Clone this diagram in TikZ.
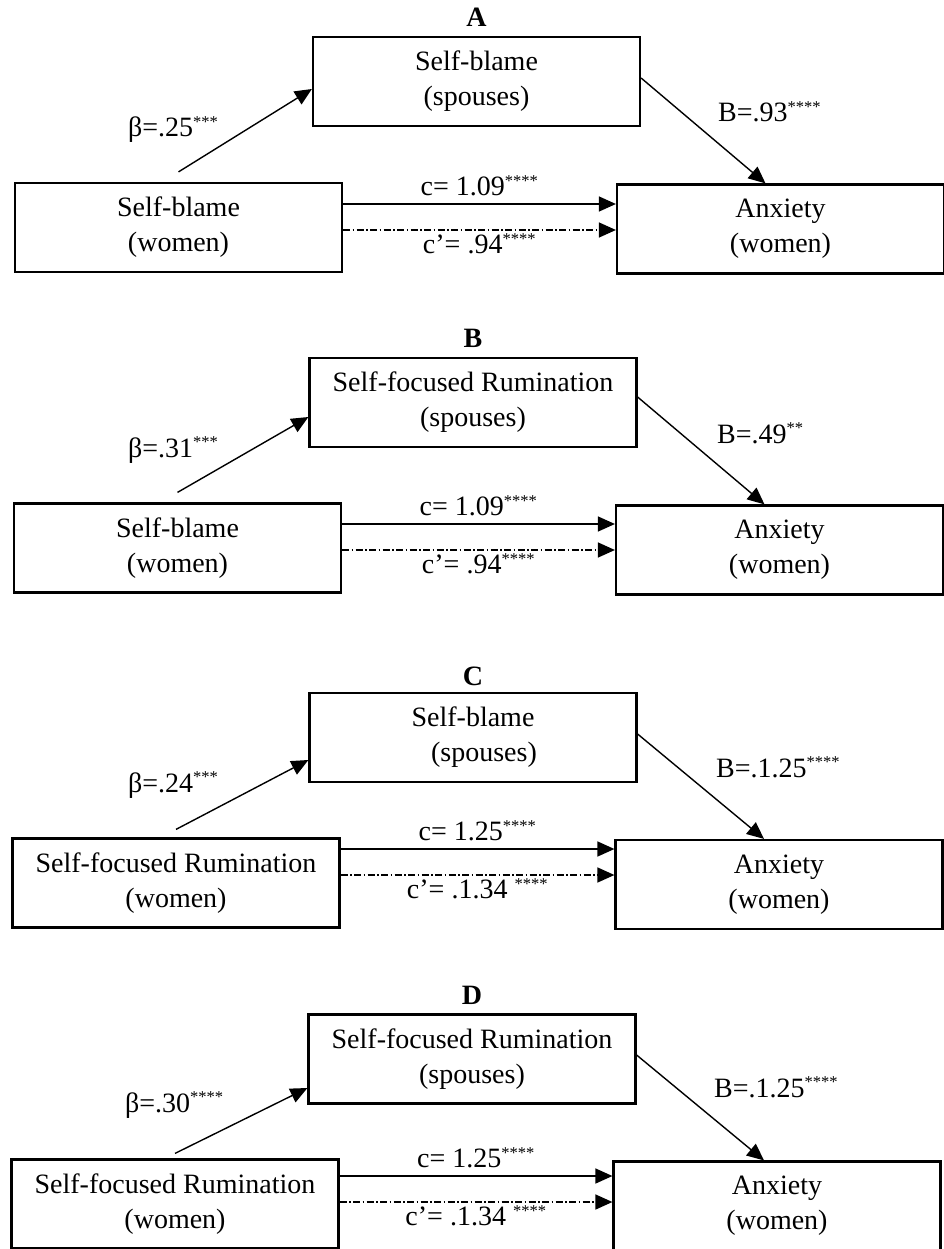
\documentclass[tikz,border=0pt]{standalone}
\usepackage{fontspec}
\setmainfont{Liberation Serif}
\usetikzlibrary{arrows.meta, positioning}

\newcommand{\stars}[1]{\textsuperscript{\fontsize{16.5}{16.5}\selectfont #1}}

\begin{document}
\begin{tikzpicture}[
    x=1pt, y=-1pt,
    font=\fontsize{28}{35}\selectfont,
    varbox/.style={rectangle, draw, line width=2.2pt, minimum width=327pt, minimum height=89pt, align=center, inner sep=0pt},
    paneltitle/.style={font=\fontsize{28}{35}\selectfont\bfseries, inner sep=0pt},
    coef/.style={anchor=base west, inner sep=0pt},
    arrow/.style={-{Triangle[length=17pt, width=15pt]}, line width=1.4pt},
    indirect/.style={arrow, dash pattern=on 7pt off 2.5pt on 1.5pt off 2.5pt}
]
    \useasboundingbox (0,0) rectangle (944,1249);

    % A
    \node[varbox] (mA) at (476.5,81.5) {Self-blame\\(spouses)};
    \node[varbox] (xA) at (178.5,227.5) {Self-blame\\(women)};
    \node[varbox] (yA) at (780.5,229) {Anxiety\\(women)};
    \node[paneltitle, above=9pt of mA] (tA) {A};
    \draw[arrow] ([yshift=10pt]xA.north) -- ([yshift=-7.5pt]mA.west);
    \draw[arrow] ([yshift=3.5pt]mA.east) -- ([xshift=-15pt]yA.north);
    \draw[arrow] ([yshift=23.5pt]xA.east) -- ([yshift=23.5pt]xA.east -| yA.west)
        node[midway, above=7pt, inner sep=0pt] (cA) {c= 1.09\stars{****}};
    \draw[indirect] ([yshift=-2.5pt]xA.east) -- ([yshift=-2.5pt]xA.east -| yA.west)
        node[midway, below=3pt, inner sep=0pt] (dA) {c’= .94\stars{****}};
    \node[coef] (bA) at (128,137) {β=.25\stars{***}};
    \node[coef] (gA) at (718,122) {B=.93\stars{****}};

    % B
    \node[varbox] (mB) at (473,402.5) {Self-focused Rumination\\(spouses)};
    \node[varbox] (xB) at (177.5,548) {Self-blame\\(women)};
    \node[varbox] (yB) at (779.5,550) {Anxiety\\(women)};
    \node[paneltitle, above=9pt of mB] (tB) {B};
    \draw[arrow] ([yshift=10pt]xB.north) -- ([yshift=-14.5pt]mB.west);
    \draw[arrow] ([yshift=5.5pt]mB.east) -- ([xshift=-15pt]yB.north);
    \draw[arrow] ([yshift=24pt]xB.east) -- ([yshift=24pt]xB.east -| yB.west)
        node[midway, above=7pt, inner sep=0pt] (cB) {c= 1.09\stars{****}};
    \draw[indirect] ([yshift=-2pt]xB.east) -- ([yshift=-2pt]xB.east -| yB.west)
        node[midway, below=3pt, inner sep=0pt] (dB) {c’= .94\stars{****}};
    \node[coef] (bB) at (128,457) {β=.31\stars{***}};
    \node[coef] (gB) at (717,443) {B=.49\stars{**}};

    % C
    \node[varbox] (mC) at (473,737.5) {Self-blame\\\hspace*{22pt}(spouses)};
    \node[varbox] (xC) at (176,883) {Self-focused Rumination\\(women)};
    \node[varbox] (yC) at (779,884.5) {Anxiety\\(women)};
    \node[paneltitle, above=6pt of mC] (tC) {C};
    \draw[arrow] ([yshift=8pt]xC.north) -- ([yshift=-22.5pt]mC.west);
    \draw[arrow] ([yshift=3.5pt]mC.east) -- ([xshift=-15pt]yC.north);
    \draw[arrow] ([yshift=34pt]xC.east) -- ([yshift=34pt]xC.east -| yC.west)
        node[midway, above=7pt, inner sep=0pt] (cC) {c= 1.25\stars{****}};
    \draw[indirect] ([yshift=8pt]xC.east) -- ([yshift=8pt]xC.east -| yC.west)
        node[midway, below=3pt, inner sep=0pt] (dC) {c’= .1.34 \stars{****}};
    \node[coef] (bC) at (128,792) {β=.24\stars{***}};
    \node[coef] (gC) at (716,777) {B=.1.25\stars{****}};

    % D
    \node[varbox] (mD) at (472,1059) {Self-focused Rumination\\(spouses)};
    \node[varbox] (xD) at (175,1204) {Self-focused Rumination\\(women)};
    \node[varbox] (yD) at (777,1206) {Anxiety\\(women)};
    \node[paneltitle, above=9pt of mD] (tD) {D};
    \draw[arrow] ([yshift=5pt]xD.north) -- ([yshift=-29pt]mD.west);
    \draw[arrow] ([yshift=4pt]mD.east) -- ([xshift=-13pt]yD.north);
    \draw[arrow] ([yshift=28pt]xD.east) -- ([yshift=28pt]xD.east -| yD.west)
        node[midway, above=7pt, inner sep=0pt] (cD) {c= 1.25\stars{****}};
    \draw[indirect] ([yshift=2pt]xD.east) -- ([yshift=2pt]xD.east -| yD.west)
        node[midway, below=3pt, inner sep=0pt] (dD) {c’= .1.34 \stars{****}};
    \node[coef] (bD) at (125,1112) {β=.30\stars{****}};
    \node[coef] (gD) at (714,1097) {B=.1.25\stars{****}};
\end{tikzpicture}
\end{document}
